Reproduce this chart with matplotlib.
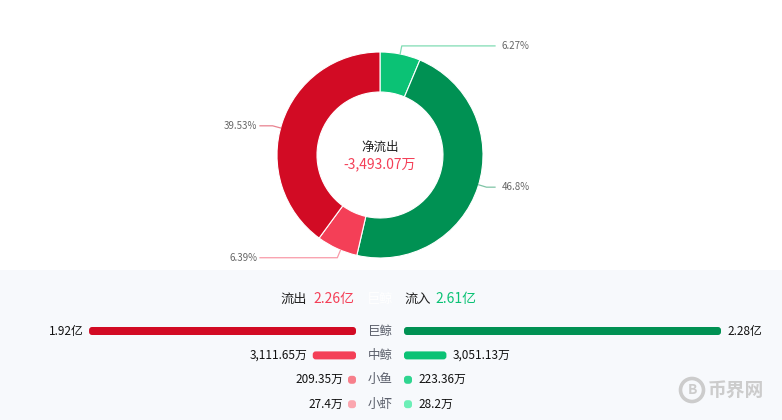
import matplotlib
matplotlib.use('Agg')
import matplotlib.pyplot as plt
from matplotlib.patches import FancyBboxPatch, Rectangle, Circle
from matplotlib.transforms import IdentityTransform
import numpy as np

plt.rcParams['font.family'] = ['Noto Sans CJK SC', 'DejaVu Sans']

# ---------------- data ----------------
pie_labels = ['6.27%', '46.8%', '6.39%', '39.53%']
pie_values = [6.27, 46.8, 6.39, 39.53]
pie_colors = ['#0bc275', '#009153', '#f43f57', '#d20b24']
line_colors = ['#7fdcb3', '#7fc4a6', '#f99aa8', '#e8828f']
center_title = '净流出'
center_value = '-3,493.07万'

categories = ['巨鲸', '中鲸', '小鱼', '小虾']
outflow = [19200, 3111.65, 209.35, 27.4]      # 万
inflow = [22800, 3051.13, 223.36, 28.2]       # 万
outflow_labels = ['1.92亿', '3,111.65万', '209.35万', '27.4万']
inflow_labels = ['2.28亿', '3,051.13万', '223.36万', '28.2万']
out_colors = ['#d20b24', '#f43f57', '#f77f8b', '#fba6af']
in_colors = ['#009153', '#0bc275', '#2fd590', '#6cefb7']
total_out_label = '流出'
total_out = '2.26亿'
total_in_label = '流入'
total_in = '2.61亿'

# ---------------- layout helpers ----------------
W, H = 782, 420
fig = plt.figure(figsize=(W / 100, H / 100), dpi=100)
fig.patch.set_facecolor('white')


def frac(x0, y0, w, h):
    return [x0 / W, 1 - (y0 + h) / H, w / W, h / H]


def fx(x):
    return x / W


def fy(y):
    return 1 - y / H


# bottom panel background
fig.add_artist(Rectangle((0, 0), 1, fy(270), transform=fig.transFigure,
                         facecolor='#f7f9fc', edgecolor='none', zorder=0))

# ---------------- donut ----------------
cx, cy, R = 380, 155, 103
top_h = 270
ax = fig.add_axes(frac(0, 0, W, top_h))
ax.set_facecolor('none')
wedges, _ = ax.pie(pie_values, colors=pie_colors, startangle=90, counterclock=False,
                   radius=1, wedgeprops=dict(width=40 / R, edgecolor='white', linewidth=0.8))
ax.set_xlim((0 - cx) / R, (W - cx) / R)
ax.set_ylim((cy - top_h) / R, cy / R)
ax.set_aspect('equal', adjustable='box')
ax.axis('off')

ang = 90.0
for val, lab, lc in zip(pie_values, pie_labels, line_colors):
    mid = np.deg2rad(ang - val * 3.6 / 2)
    ang -= val * 3.6
    p0 = np.array([np.cos(mid), np.sin(mid)])
    p1 = p0 * 1.08
    if p0[0] >= 0:
        x2 = (495 - cx) / R
        xt = (502 - cx) / R
        ha = 'left'
    else:
        x2 = (260 - cx) / R
        xt = (257 - cx) / R
        ha = 'right'
    ax.plot([p0[0], p1[0], x2], [p0[1], p1[1], p1[1]], color=lc, lw=0.9,
            solid_joinstyle='round')
    ax.text(xt, p1[1], lab, ha=ha, va='center', fontsize=7, color='#666666')

ax.text(0, (cy - 147) / R, center_title, ha='center', va='center', fontsize=9, color='#222222')
ax.text(0, (cy - 164) / R, center_value, ha='center', va='center', fontsize=10, color='#f43f57')

# ---------------- header ----------------
hy = fy(299)
fig.text(fx(307), hy, total_out_label, ha='right', va='center', fontsize=9.5, color='#222222')
fig.text(fx(313), hy, total_out, ha='left', va='center', fontsize=10, color='#f43f57')
fig.text(fx(380), hy, categories[0], ha='center', va='center', fontsize=9.5, color='white')
fig.text(fx(404), hy, total_in_label, ha='left', va='center', fontsize=9.5, color='#222222')
fig.text(fx(435), hy, total_in, ha='left', va='center', fontsize=10, color='#0bc275')

# ---------------- bars ----------------
s = 317 / 22800.0          # pixels per 万
row0, dy = 331, 24.4       # first row centre and row spacing (px)
bar_px = 8
min_px = 8
rad_px = 3
y_top, y_bot = 312, 420
rows = np.arange(len(categories))
ylim = ((y_bot - row0) / dy, (y_top - row0) / dy)


def draw_side(x0px, x1px, vals, colors, labels, left):
    a = fig.add_axes(frac(x0px, y_top, x1px - x0px, y_bot - y_top))
    a.set_facecolor('none')
    span = (x1px - x0px) / s
    if left:
        a.set_xlim(span, 0)
    else:
        a.set_xlim(0, span)
    a.set_ylim(*ylim)
    a.axis('off')
    disp = [max(v, min_px / s) for v in vals]
    bars = a.barh(rows, disp, height=bar_px / dy, color=colors)
    rx, ry = rad_px / s, rad_px / dy
    for b, c in zip(bars, colors):
        x, y, w, h = b.get_x(), b.get_y(), b.get_width(), b.get_height()
        b.set_visible(False)
        a.add_patch(FancyBboxPatch((x, y), w, h,
                                   boxstyle=f'round,pad=0,rounding_size={min(rx, w / 2)}',
                                   mutation_aspect=ry / rx, facecolor=c, edgecolor='none'))
    gap = (5 if left else 6) / s
    for r, d, lab in zip(rows, disp, labels):
        a.text(d + gap, r, lab, ha='right' if left else 'left', va='center',
               fontsize=8.5, color='#111111')


draw_side(40, 356, outflow, out_colors, outflow_labels, True)
draw_side(404, 760, inflow, in_colors, inflow_labels, False)

for i, c in enumerate(categories):
    fig.text(fx(380), fy(row0 + i * dy), c, ha='center', va='center', fontsize=9, color='#5a5e6a')

# ---------------- watermark ----------------
fig.add_artist(Circle((692, H - 390), 11.5, transform=IdentityTransform(),
                      facecolor='none', edgecolor='#cccccc', linewidth=2.6))
fig.text(fx(692), fy(390), 'B', ha='center', va='center', fontsize=10, fontweight='bold', color='#cccccc')
fig.text(fx(708), fy(390), '币界网', ha='left', va='center', fontsize=13.5, fontweight='bold', color='#cccccc')

fig.savefig('out.png', dpi=100)
